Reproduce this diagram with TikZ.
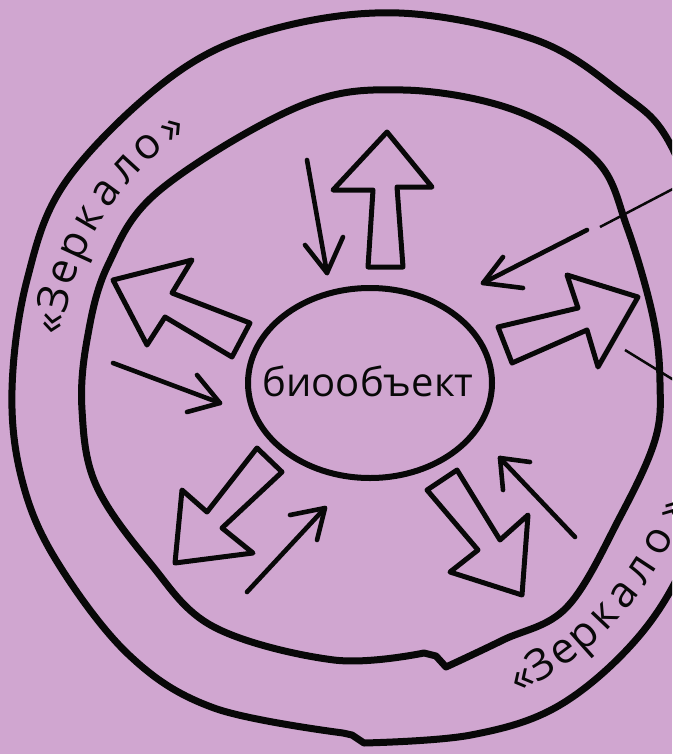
\documentclass[tikz,border=0pt]{standalone}
\usepackage{fontspec}
\setmainfont{Open Sans}
\newfontfamily\hand{Open Sans}
\definecolor{bg}{RGB}{208,166,208}
\definecolor{ink}{RGB}{8,8,8}
\begin{document}
\begin{tikzpicture}[x=1pt,y=-1pt,
  ring/.style={draw=ink, line width=7pt, line join=round},
  core/.style={draw=ink, line width=6pt},
  blockarrow/.style={draw=ink, line width=5pt, line join=round},
  thinarrow/.style={draw=ink, line width=4.6pt, line cap=round, line join=round},
  leader/.style={draw=ink, line width=2.5pt},
  mletter/.style={sloped, anchor=base, inner sep=0pt, text=ink, font=\hand\fontsize{43}{45}\selectfont},
]
\useasboundingbox (0,0) rectangle (672,754);
\fill[bg] (0,0) rectangle (672,754);
\begin{scope}
\clip (0,0) rectangle (672,754);
% outer ring
\draw[ring] plot[smooth, tension=0.6] coordinates {(364,743) (471,735) (560,705) (640,635) (690,550) (715,450) (718,340) (705,240) (668,140) (621,93) (536,40) (399,13) (270,30) (171,77) (67,180) (27,280) (12,390) (22,480) (56,560) (129,655) (214,708) (343,733)} -- (352,735) -- cycle;
% inner ring
\draw[ring] plot[smooth, tension=0.6] coordinates {(446,667) (503,640) (567,607) (620,517) (655,440) (660,383) (653,317) (627,227) (596,160) (514,110) (403,90) (300,106) (160,190) (108,265) (87,340) (82,410) (96,485) (150,563) (214,627) (334,660) (424,653)} -- (436,656) -- cycle;
% mirror label, top left
\coordinate (ta) at (63,333); \coordinate (tb) at (68,270);
\coordinate (tc) at (112,172); \coordinate (td) at (202,124);
\path (ta) .. controls (tb) and (tc) .. (td)
  node[mletter,pos=0.04] (t1) {«}
  node[mletter,pos=0.15] (t2) {З}
  node[mletter,pos=0.27] (t3) {е}
  node[mletter,pos=0.38] (t4) {р}
  node[mletter,pos=0.49] (t5) {к}
  node[mletter,pos=0.60] (t6) {а}
  node[mletter,pos=0.71] (t7) {л}
  node[mletter,pos=0.81] (t8) {о}
  node[mletter,pos=0.91] (t9) {»};
% mirror label, bottom right
\coordinate (ba) at (520,693); \coordinate (bb) at (582,663);
\coordinate (bc) at (653,602); \coordinate (bd) at (693,492);
\path (ba) .. controls (bb) and (bc) .. (bd)
  node[mletter,pos=0.04] (b1) {«}
  node[mletter,pos=0.15] (b2) {З}
  node[mletter,pos=0.27] (b3) {е}
  node[mletter,pos=0.38] (b4) {р}
  node[mletter,pos=0.49] (b5) {к}
  node[mletter,pos=0.60] (b6) {а}
  node[mletter,pos=0.71] (b7) {л}
  node[mletter,pos=0.82] (b8) {о}
  node[mletter,pos=0.93] (b9) {»};
% leader lines
\coordinate (l1a) at (600,227); \coordinate (l1b) at (690,180);
\coordinate (l2a) at (625,350); \coordinate (l2b) at (690,390);
\draw[leader] (l1a) -- (l1b);
\draw[leader] (l2a) -- (l2b);
\end{scope}
% central object
\draw[core] (370,383) ellipse [x radius=122pt, y radius=95pt];
\node[font=\hand\fontsize{40}{48}\selectfont, text=ink] (bio) at (368,381) {биообъект};
% block arrows (outgoing)
\draw[blockarrow] (387,132) -- (432,187) -- (397,187) -- (403,267) -- (368,267) -- (373,190) -- (333,190) -- cycle;
\draw[blockarrow] (638,297) -- (567,275) -- (578,308) -- (498,327) -- (512,363) -- (587,330) -- (598,367) -- cycle;
\draw[blockarrow] (113,280) -- (192,260) -- (172,293) -- (250,323) -- (232,357) -- (165,317) -- (147,345) -- cycle;
\draw[blockarrow] (175,563) -- (182,490) -- (207,512) -- (257,448) -- (282,472) -- (222,528) -- (253,553) -- cycle;
\draw[blockarrow] (522,595) -- (528,515) -- (500,540) -- (457,470) -- (427,490) -- (478,550) -- (450,572) -- cycle;
% thin arrows (incoming)
\draw[thinarrow] (307,160) -- (327,273);
\draw[thinarrow] (305,245) -- (327,273) -- (343,237);
\draw[thinarrow] (587,230) -- (483,283);
\draw[thinarrow] (503,257) -- (483,283) -- (523,288);
\draw[thinarrow] (113,363) -- (220,403);
\draw[thinarrow] (197,375) -- (220,403) -- (187,412);
\draw[thinarrow] (247,592) -- (325,508);
\draw[thinarrow] (290,515) -- (325,508) -- (317,540);
\draw[thinarrow] (575,537) -- (500,458);
\draw[thinarrow] (503,490) -- (500,458) -- (530,462);
\end{tikzpicture}
\end{document}
